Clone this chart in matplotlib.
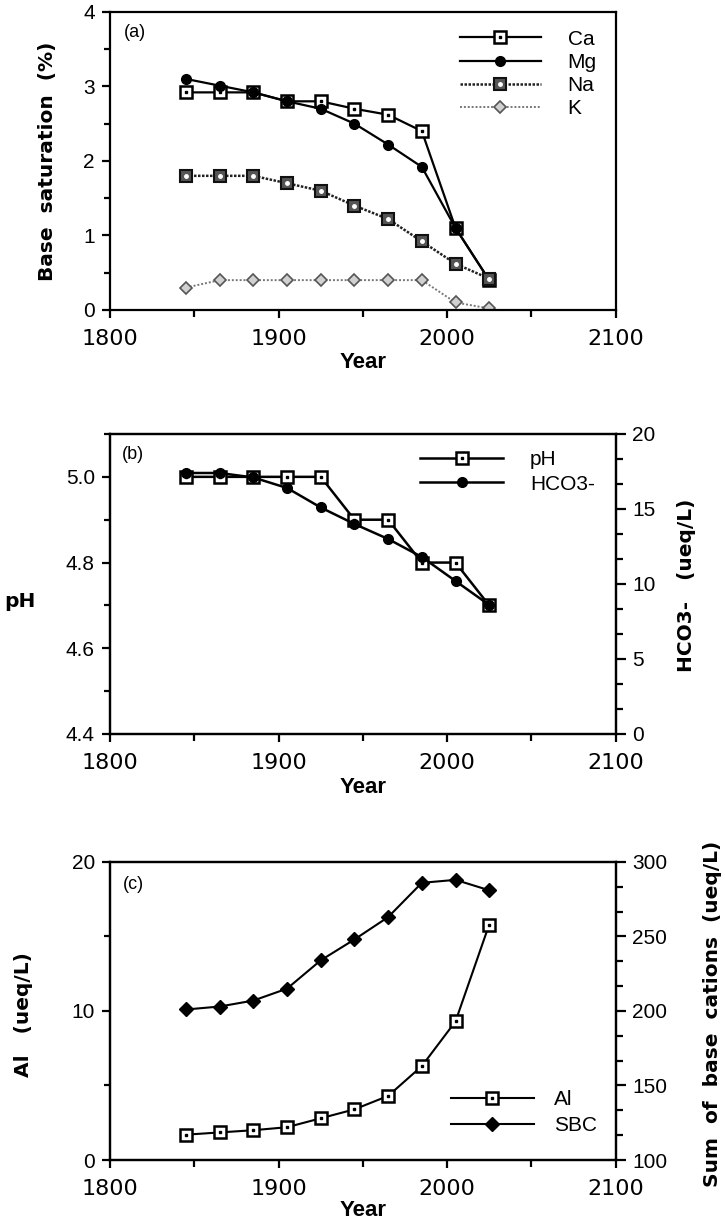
import matplotlib
matplotlib.use('Agg')
import matplotlib.pyplot as plt
from matplotlib.ticker import MultipleLocator, FormatStrFormatter

plt.rcParams['font.family'] = ['Liberation Sans', 'DejaVu Sans']

years = [1845, 1865, 1885, 1905, 1925, 1945, 1965, 1985, 2005, 2025]

### (a) base saturation (%)
ca = [2.92, 2.92, 2.92, 2.8, 2.8, 2.7, 2.62, 2.4, 1.1, 0.4]
mg = [3.1, 3.01, 2.92, 2.8, 2.7, 2.5, 2.22, 1.92, 1.1, 0.4]
na = [1.8, 1.8, 1.8, 1.7, 1.6, 1.4, 1.22, 0.92, 0.62, 0.42]
k = [0.3, 0.4, 0.4, 0.4, 0.4, 0.4, 0.4, 0.4, 0.1, 0.02]

### (b) pH and HCO3- (ueq/L)
ph = [5.0, 5.0, 5.0, 5.0, 5.0, 4.9, 4.9, 4.8, 4.8, 4.7]
hco3 = [17.4, 17.4, 17.1, 16.4, 15.1, 14.0, 13.0, 11.8, 10.2, 8.6]

### (c) Al and sum of base cations (ueq/L)
al = [1.7, 1.85, 2.0, 2.2, 2.8, 3.4, 4.3, 6.3, 9.3, 15.8]
sbc = [201, 203, 207, 215, 234, 248, 263, 286, 288, 281]

legfont = {'size': 15}
SW = 1.6   # spine / tick width


def style(ax, xlab_y):
    for s in ax.spines.values():
        s.set_linewidth(SW)
    ax.set_xlim(1800, 2100)
    ax.xaxis.set_major_locator(MultipleLocator(100))
    ax.xaxis.set_minor_locator(MultipleLocator(50))
    ax.tick_params(axis='x', which='major', direction='out', length=6, width=SW, pad=8, labelsize=16)
    ax.tick_params(axis='x', which='minor', direction='out', length=5, width=SW)
    ax.tick_params(axis='y', which='major', direction='out', length=6, width=SW, pad=5, labelsize=15)
    ax.tick_params(axis='y', which='minor', direction='out', length=4, width=SW)
    ax.tick_params(top=False, right=False, which='both')
    ax.set_xlabel('Year', fontsize=16, fontweight='bold', va='center')
    ax.xaxis.set_label_coords(0.5, xlab_y)


def right_style(ax2):
    for s in ax2.spines.values():
        s.set_linewidth(SW)
    ax2.tick_params(axis='y', which='major', direction='out', length=7, width=SW, pad=5, labelsize=15)
    ax2.tick_params(axis='y', which='minor', direction='out', length=5, width=SW)


def square_line(ax, x, y, lw=1.6):
    ln, = ax.plot(x, y, '-', color='k', lw=lw, marker='s', ms=8, mfc='white', mec='k', mew=1.8)
    dot, = ax.plot(x, y, ls='none', marker='s', ms=2, color='k')
    return (ln, dot)


fig = plt.figure(figsize=(7.25, 12.27), dpi=100)
L, W = 0.152, 0.697
ax_a = fig.add_axes([L, 0.7474, W, 0.2429])
ax_b = fig.add_axes([L, 0.4018, W, 0.2445])
ax_c = fig.add_axes([L, 0.0546, W, 0.2429])

# ---- (a)
h_ca = square_line(ax_a, years, ca)
h_mg, = ax_a.plot(years, mg, '-', color='k', lw=1.6, marker='o', ms=7)
h_na, = ax_a.plot(years, na, color='#222222', lw=1.8, ls=(0, (1, 0.6)), marker='s', ms=8,
                  mfc='#555555', mec='#111111', mew=1.5)
na_dot, = ax_a.plot(years, na, ls='none', marker='o', ms=2.5, color='white')
h_k, = ax_a.plot(years, k, color='#777777', lw=1.4, ls=(0, (1, 1)), marker='D', ms=6.5,
                 mfc='#d0d0d0', mec='#555555', mew=1.2)
style(ax_a, -0.176)
ax_a.set_ylim(0, 4)
ax_a.yaxis.set_major_locator(MultipleLocator(1))
ax_a.yaxis.set_minor_locator(MultipleLocator(0.5))
ax_a.set_ylabel('Base  saturation  (%)', fontsize=14.5, fontweight='bold', family='DejaVu Sans', va='center')
ax_a.yaxis.set_label_coords(-0.125, 0.5)
ax_a.text(0.028, 0.93, '(a)', transform=ax_a.transAxes, fontsize=13, ha='left', va='center')
ax_a.legend([h_ca, h_mg, (h_na, na_dot), h_k], ['Ca', 'Mg', 'Na', 'K'], loc='upper left',
            bbox_to_anchor=(0.693, 0.94), frameon=False, borderpad=0, borderaxespad=0,
            handlelength=3.85, handletextpad=1.3, labelspacing=0.2, prop=legfont)

# ---- (b)
h_ph = square_line(ax_b, years, ph, lw=1.8)
style(ax_b, -0.177)
ax_b.set_ylim(4.4, 5.1)
ax_b.set_yticks([4.4, 4.6, 4.8, 5.0])
ax_b.yaxis.set_minor_locator(MultipleLocator(0.1))
ax_b.yaxis.set_major_formatter(FormatStrFormatter('%.1f'))
ax_b.set_ylabel('pH', fontsize=14.5, fontweight='bold', family='DejaVu Sans', rotation=0, ha='center', va='center')
ax_b.yaxis.set_label_coords(-0.178, 0.44)
ax_b.text(0.024, 0.93, '(b)', transform=ax_b.transAxes, fontsize=13, ha='left', va='center')

ax_b2 = ax_b.twinx()
h_hco3, = ax_b2.plot(years, hco3, '-', color='k', lw=1.8, marker='o', ms=7)
ax_b2.set_ylim(0, 20)
ax_b2.yaxis.set_major_locator(MultipleLocator(5))
ax_b2.yaxis.set_minor_locator(MultipleLocator(5 / 3))
right_style(ax_b2)
ax_b2.set_ylabel('HCO3-   (ueq/L)', fontsize=14.5, fontweight='bold', family='DejaVu Sans', va='center')
ax_b2.yaxis.set_label_coords(1.141, 0.497)
ax_b2.legend([h_ph, h_hco3], ['pH', 'HCO3-'], loc='upper left',
             bbox_to_anchor=(0.614, 0.945), frameon=False, borderpad=0, borderaxespad=0,
             handlelength=3.95, handletextpad=1.3, labelspacing=0.25, prop=legfont)

# ---- (c)
h_al = square_line(ax_c, years, al, lw=1.5)
style(ax_c, -0.168)
ax_c.set_ylim(0, 20)
ax_c.yaxis.set_major_locator(MultipleLocator(10))
ax_c.yaxis.set_minor_locator(MultipleLocator(5))
ax_c.set_ylabel('Al   (ueq/L)', fontsize=14.5, fontweight='bold', family='DejaVu Sans', va='center')
ax_c.yaxis.set_label_coords(-0.172, 0.487)
ax_c.text(0.026, 0.923, '(c)', transform=ax_c.transAxes, fontsize=13, ha='left', va='center')

ax_c2 = ax_c.twinx()
h_sbc, = ax_c2.plot(years, sbc, '-', color='k', lw=1.5, marker='D', ms=7.5)
ax_c2.set_ylim(100, 300)
ax_c2.yaxis.set_major_locator(MultipleLocator(50))
ax_c2.yaxis.set_minor_locator(MultipleLocator(50 / 3))
right_style(ax_c2)
ax_c2.set_ylabel('Sum  of  base  cations  (ueq/L)', fontsize=14.5, fontweight='bold', family='DejaVu Sans', va='center')
ax_c2.yaxis.set_label_coords(1.192, 0.49)
ax_c2.legend([h_al, h_sbc], ['Al', 'SBC'], loc='upper left',
             bbox_to_anchor=(0.675, 0.235), frameon=False, borderpad=0, borderaxespad=0,
             handlelength=3.95, handletextpad=1.0, labelspacing=0.35, prop=legfont)

# wider digits on the year axes, as in the scan
for ax in (ax_a, ax_b, ax_c):
    for t in ax.get_xticklabels():
        t.set_fontfamily('DejaVu Sans')

fig.savefig('out.png', dpi=100)
